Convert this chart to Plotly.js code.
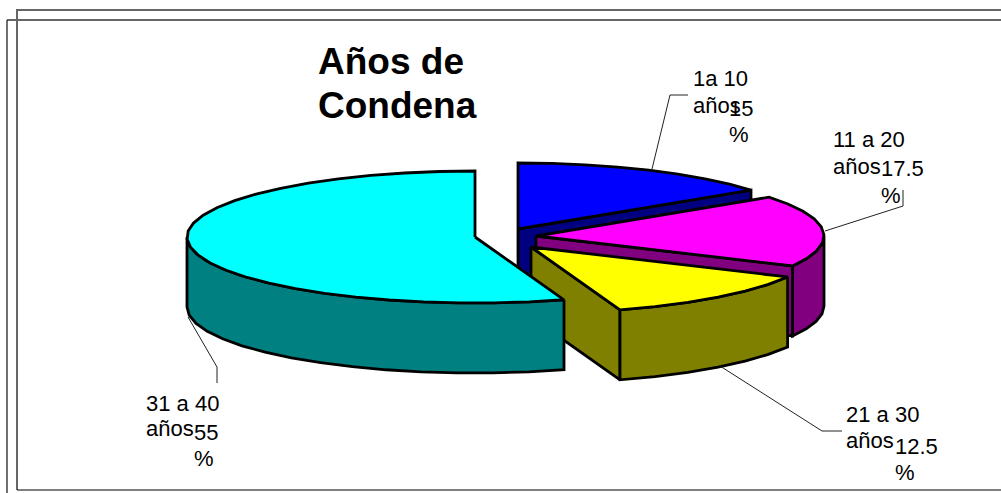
<!DOCTYPE html>
<html><head><meta charset="utf-8">
<script src="https://cdn.plot.ly/plotly-3.0.1.min.js"></script>
<style>html,body{margin:0;padding:0;background:#fff;overflow:hidden}#c{width:1001px;height:493px}</style>
</head><body><div id="c"></div>
<script>
const categories = ["1a 10 años", "11 a 20 años", "21 a 30 años", "31 a 40 años"];
const values = [15, 17.5, 12.5, 55];
const titleLines = ["Años de", "Condena"];

const topColors = ["#0000ff", "#ff00ff", "#ffff00", "#00ffff"];
const sideColors = ["#000080", "#800080", "#808000", "#008080"];
const centre = {x: 505, y: 238}, rx = 288, ry = 66, depth = 70;
const explode = [[13, -9], [31, -2], [26, 9], [-30, -1]];
// label anchors: [left of category, y line 1, y line 2, left of value, y value, y %]
const labelPos = [
  [691, 78, 105, 727, 108, 134],
  [831, 139, 166, 879, 168, 195],
  [844, 414, 440, 893, 446, 472],
  [144, 403, 428, 192, 432, 458]
];
const leaders = [
  [[652, 169], [670, 95], [688, 95]],
  [[825, 231], [903, 206], [903, 190]],
  [[720, 366], [822, 431], [842, 431]],
  [[188, 317], [217, 367], [217, 383]]
];
const frame = [
  {p: [[17, 490], [17, 10], [1001, 10]], c: "#666666", w: 2},
  {p: [[7, 20], [1001, 20]], c: "#666666", w: 2},
  {p: [[7, 493], [7, 20]], c: "#111111", w: 1.2},
  {p: [[17, 490], [1001, 490]], c: "#000000", w: 1.2}
];

const traces = [];
function poly(pts, fill, w) {
  traces.push({type: "scatter", mode: "lines", x: pts.map(p => p[0]), y: pts.map(p => p[1]),
    fill: fill ? "toself" : "none", fillcolor: fill || undefined,
    line: {color: w === undefined ? "#000" : w.c, width: w === undefined ? 2.8 : w.w},
    hoverinfo: "skip", showlegend: false});
}
const rad = d => d * Math.PI / 180;
const total = values.reduce((a, b) => a + b, 0);
let acc = 0;
values.forEach((v, i) => {
  const a0 = acc / total * 360, a1 = (acc + v) / total * 360;
  acc += v;
  const cx = centre.x + explode[i][0], cy = centre.y + explode[i][1];
  const rim = a => [cx + rx * Math.sin(rad(a)), cy - ry * Math.cos(rad(a))];
  const drop = p => [p[0], p[1] + depth];
  const arc = (s, e) => {
    const n = Math.max(1, Math.round((e - s) / 7)), out = [];
    for (let k = 0; k <= n; k++) out.push(rim(s + (e - s) * k / n));
    return out;
  };
  // radial side faces that look towards the viewer
  const t = [cx, cy];
  if (a1 > 0 && a1 < 180) { const r = rim(a1); poly([t, r, drop(r), drop(t), t], sideColors[i]); }
  if (a0 > 180 && a0 < 360) { const r = rim(a0); poly([t, r, drop(r), drop(t), t], sideColors[i]); }
  // outer rim side face
  const s = Math.max(a0, 90), e = Math.min(a1, 270);
  if (e > s) {
    const up = arc(s, e);
    poly(up.concat(up.slice().reverse().map(drop), [up[0]]), sideColors[i]);
  }
  // top face
  const topPts = [[cx, cy]].concat(arc(a0, a1), [[cx, cy]]);
  poly(topPts, topColors[i]);
});
leaders.forEach(l => poly(l, null, {c: "#222222", w: 1}));
frame.forEach(f => poly(f.p, null, {c: f.c, w: f.w}));

const ann = [];
const txt = (t, x, y, size, bold) => ann.push({text: bold ? "<b>" + t + "</b>" : t, x, y, xref: "x", yref: "y",
  xanchor: "left", yanchor: "middle", showarrow: false, align: "left",
  font: {family: "Liberation Sans, Arial, sans-serif", size, color: "#000"}});
categories.forEach((c, i) => {
  const p = labelPos[i], cut = c.lastIndexOf(" ");
  txt(c.slice(0, cut), p[0], p[1], 22);
  txt(c.slice(cut + 1), p[0], p[2], 22);
  txt(String(values[i]), p[3], p[4], 22);
  txt("%", p[3], p[5], 22);
});
txt(titleLines[0], 316, 61, 37, true);
txt(titleLines[1], 316, 105, 37, true);

Plotly.newPlot("c", traces, {
  width: 1001, height: 493, margin: {l: 0, r: 0, t: 0, b: 0},
  paper_bgcolor: "#fff", plot_bgcolor: "#fff", showlegend: false, annotations: ann,
  xaxis: {range: [0, 1001], visible: false, fixedrange: true},
  yaxis: {range: [493, 0], visible: false, fixedrange: true}
}, {displayModeBar: false, staticPlot: true});
</script></body></html>
